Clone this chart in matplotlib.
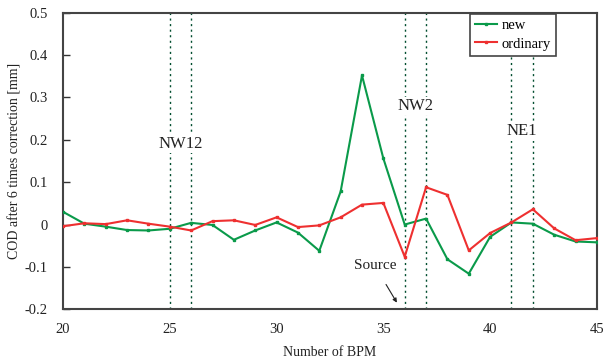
import numpy as np
import matplotlib.pyplot as plt

plt.rcParams['font.family'] = ['Liberation Serif', 'DejaVu Serif']
plt.rcParams['font.size'] = 10

bpm = np.arange(20, 46)
cod_new = [0.030, 0.002, -0.005, -0.013, -0.014, -0.010, 0.004, -0.001, -0.036,
           -0.014, 0.005, -0.019, -0.062, 0.078, 0.352, 0.156, 0.000, 0.014,
           -0.082, -0.116, -0.029, 0.005, 0.002, -0.024, -0.040, -0.042]
cod_ordinary = [-0.004, 0.003, 0.001, 0.010, 0.002, -0.005, -0.014, 0.008, 0.010,
                -0.001, 0.017, -0.006, -0.002, 0.017, 0.047, 0.051, -0.076, 0.088,
                0.070, -0.061, -0.020, 0.005, 0.036, -0.009, -0.037, -0.032]

# straight-section markers: name, pair of BPM positions, label height
sections = [("NW12", (25, 26), 0.19), ("NW2", (36, 37), 0.28), ("NE1", (41, 42), 0.22)]
source_bpm = 35.7

fig = plt.figure(figsize=(6.06, 3.63), dpi=100)
ax = fig.add_axes([0.104, 0.148, 0.881, 0.817])

for name, (a, b), ylab in sections:
    for x in (a, b):
        ax.axvline(x, color='#004d2e', lw=1.0, ls=(0, (1.5, 2.5)), zorder=1)
    ax.text((a + b) / 2, ylab, name, ha='center', va='center', fontsize=12,
            color='#222222', zorder=2,
            bbox=dict(facecolor='white', edgecolor='none', pad=1))

ax.plot(bpm, cod_new, color='#0a9a4a', lw=1.5, marker='s', ms=2, label='new', zorder=3)
ax.plot(bpm, cod_ordinary, color='#ee3030', lw=1.5, marker='s', ms=2, label='ordinary', zorder=4)

ax.annotate('Source', xy=(source_bpm, -0.19), xytext=(34.6, -0.097),
            ha='center', va='center', fontsize=11, color='#222222',
            arrowprops=dict(arrowstyle='-|>', color='#222222', lw=0.8,
                            mutation_scale=6, shrinkA=8))

ax.set_xlim(20, 45)
ax.set_ylim(-0.2, 0.5)
ax.set_xticks(range(20, 46, 5))
ax.set_yticks(np.round(np.arange(-0.2, 0.51, 0.1), 1))
ax.set_yticklabels(['-0.2', '-0.1', '0', '0.1', '0.2', '0.3', '0.4', '0.5'])
ax.tick_params(axis='y', direction='in', length=5, width=1, pad=11, colors='#333333')
ax.tick_params(axis='x', length=0, pad=10, colors='#333333')
for t in ax.get_xticklabels() + ax.get_yticklabels():
    t.set_color('#222222')
    t.set_fontsize(10.5)
for s in ax.spines.values():
    s.set_color('#444444')
    s.set_linewidth(1.5)

ax.set_xlabel('Number of BPM', color='#222222', labelpad=7)
ax.set_ylabel('COD after 6 times correction [mm]', color='#222222', labelpad=2)

leg = ax.legend(loc='upper right', bbox_to_anchor=(0.923, 0.996), borderaxespad=0,
                fancybox=False, edgecolor='#444444', framealpha=1, handlelength=1.5,
                handletextpad=0.3, borderpad=0.35, labelspacing=0.35, fontsize=10.5)
leg.get_frame().set_linewidth(1.2)

fig.savefig('out.png', dpi=100)
